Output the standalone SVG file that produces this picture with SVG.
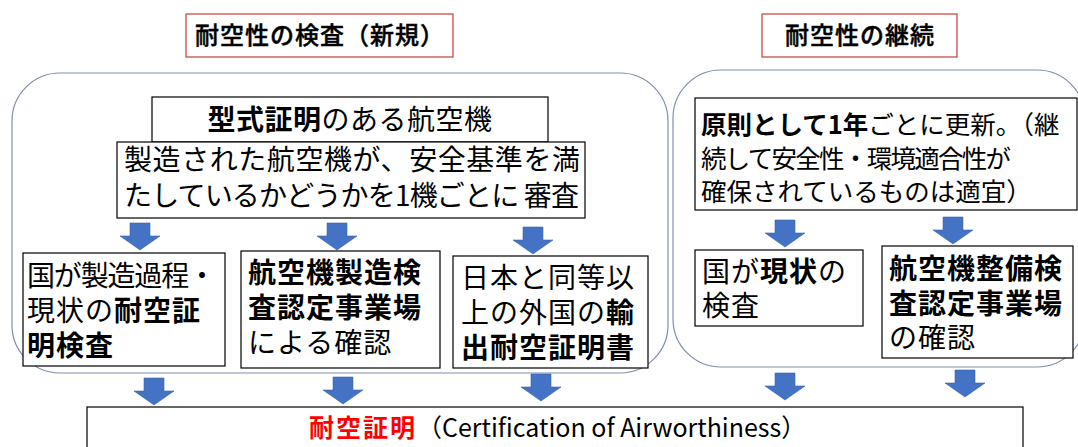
<svg xmlns="http://www.w3.org/2000/svg" xmlns:xlink="http://www.w3.org/1999/xlink" width="1078" height="447" viewBox="0 0 1078 447">
<defs>
<style>
text{font-family:"Noto Sans CJK JP","Noto Sans",sans-serif;fill:#000;}
.t{font-size:24px;letter-spacing:1px;font-weight:500;stroke:#000;stroke-width:0.45px;}
.m{font-size:28px;letter-spacing:0.5px;}
.s{font-size:28px;letter-spacing:1px;}
.r{font-size:25.5px;}
.b{font-weight:bold;}
.box{fill:#fff;stroke:#000;stroke-width:1.2;}
.tbox{fill:#fff;stroke:#C84B4B;stroke-width:1.3;}
.cont{fill:none;stroke:#7F8FA9;stroke-width:1.2;}
.arr{fill:#4472C4;stroke:#3A64AD;stroke-width:0.6;}
</style>
<path id="a" d="M-10,0 H10 V13 H20 L0,27 L-20,13 H-10 Z"/>
</defs>
<rect width="1078" height="447" fill="#fff"/>

<g id="title-new">
<rect class="tbox" x="186" y="14" width="267" height="43"/>
<text class="t" x="320" y="44" text-anchor="middle">耐空性の検査（新規）</text>
</g>
<g id="title-continue">
<rect class="tbox" x="762" y="14" width="195" height="43"/>
<text class="t" x="860" y="44" text-anchor="middle">耐空性の継続</text>
</g>

<g id="container-new"><rect class="cont" x="12" y="73" width="656" height="300" rx="48" ry="48"/></g>
<g id="container-continue"><rect class="cont" x="673" y="70" width="412" height="297" rx="48" ry="48"/></g>

<g id="type-cert">
<rect class="box" x="152" y="97" width="396" height="45"/>
<text class="m" x="350" y="130" text-anchor="middle"><tspan class="b">型式証明</tspan>のある航空機</text>
</g>
<g id="manufactured">
<rect class="box" x="117" y="142" width="468" height="76"/>
<text style="font-size:28px" x="124" y="170" textLength="456" lengthAdjust="spacing">製造された航空機が、安全基準を満</text>
<text style="font-size:28px" x="124" y="206" textLength="455" lengthAdjust="spacing">たしているかどうかを1機ごとに 審査</text>
</g>
<g id="renewal">
<rect class="box" x="695" y="98" width="382" height="112"/>
<text class="r" x="701" y="134"><tspan class="b">原則として1年</tspan>ごとに更新。（継</text>
<text class="r" x="701" y="168" textLength="310" lengthAdjust="spacing">続して安全性・環境適合性が</text>
<text class="r" x="701" y="201">確保されているものは適宜）</text>
</g>

<g id="box-state-mfg">
<rect class="box" x="23" y="253" width="202" height="113"/>
<text class="s" x="27" y="286" textLength="190" lengthAdjust="spacing">国が製造過程・</text>
<text class="s" x="27" y="321">現状の<tspan class="b">耐空証</tspan></text>
<text class="s b" x="27" y="356">明検査</text>
</g>
<g id="box-mfg-approved">
<rect class="box" x="241" y="251" width="199" height="117"/>
<text class="s b" x="248" y="283">航空機製造検</text>
<text class="s b" x="248" y="318">査認定事業場</text>
<text class="s" x="248" y="353">による確認</text>
</g>
<g id="box-foreign">
<rect class="box" x="453" y="256" width="195" height="112"/>
<text class="s" x="461" y="288">日本と同等以</text>
<text class="s" x="461" y="323">上の外国の<tspan class="b">輸</tspan></text>
<text class="s b" x="461" y="358">出耐空証明書</text>
</g>
<g id="box-state-current">
<rect class="box" x="695" y="250" width="168" height="76"/>
<text class="s" x="702" y="282">国が<tspan class="b">現状</tspan>の</text>
<text class="s" x="702" y="316">検査</text>
</g>
<g id="box-maint-approved">
<rect class="box" x="882" y="246" width="191" height="112"/>
<text class="s b" x="889" y="279">航空機整備検</text>
<text class="s b" x="889" y="314">査認定事業場</text>
<text class="s" x="889" y="348">の確認</text>
</g>

<g id="certificate">
<rect class="box" x="87" y="407" width="936" height="60"/>
<text x="309" y="437" style="font-size:25px"><tspan class="b" style="fill:#FF0000;letter-spacing:2px">耐空証明</tspan>（Certification of Airworthiness）</text>
</g>

<g id="connectors">
<use xlink:href="#a" class="arr" x="140" y="223"/>
<use xlink:href="#a" class="arr" x="337" y="223"/>
<use xlink:href="#a" class="arr" x="533" y="227"/>
<use xlink:href="#a" class="arr" x="785" y="220"/>
<use xlink:href="#a" class="arr" x="953" y="217"/>
<use xlink:href="#a" class="arr" x="154" y="378"/>
<use xlink:href="#a" class="arr" x="343" y="377"/>
<use xlink:href="#a" class="arr" x="541" y="374"/>
<use xlink:href="#a" class="arr" x="785" y="373"/>
<use xlink:href="#a" class="arr" x="965" y="370"/>
</g>
</svg>
